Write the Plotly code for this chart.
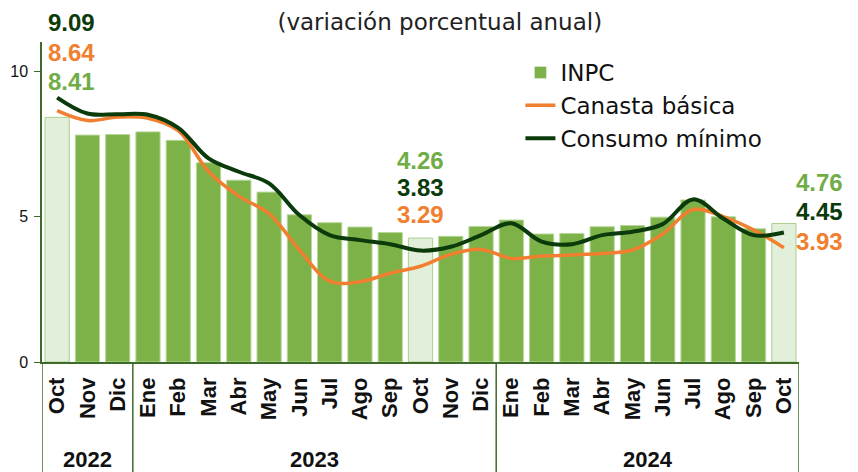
import plotly.graph_objects as go

months = ["Oct", "Nov", "Dic",
          "Ene", "Feb", "Mar", "Abr", "May", "Jun", "Jul", "Ago", "Sep", "Oct", "Nov", "Dic",
          "Ene", "Feb", "Mar", "Abr", "May", "Jun", "Jul", "Ago", "Sep", "Oct"]
years = ["2022", "2023", "2024"]
year_centers = [1, 8.5, 19.5]
year_bounds = [-0.5, 2.5, 14.5, 24.5]

inpc = [8.41, 7.80, 7.82, 7.91, 7.62, 6.85, 6.25, 5.84, 5.06, 4.79, 4.64, 4.45, 4.26,
        4.32, 4.66, 4.88, 4.40, 4.42, 4.65, 4.69, 4.98, 5.57, 4.99, 4.58, 4.76]
canasta = [8.64, 8.30, 8.42, 8.38, 7.95, 6.55, 5.70, 5.10, 3.85, 2.78, 2.76, 3.05, 3.29,
           3.70, 3.87, 3.56, 3.64, 3.68, 3.73, 3.85, 4.40, 5.24, 5.00, 4.54, 3.93]
consumo = [9.09, 8.54, 8.52, 8.50, 8.05, 7.00, 6.54, 6.14, 5.05, 4.36, 4.19, 4.05, 3.83,
           3.96, 4.36, 4.77, 4.14, 4.05, 4.36, 4.48, 4.74, 5.59, 4.93, 4.36, 4.45]
highlight = [0, 12, 24]

C_BAR = "#7CB247"
C_BAR_LIGHT = "#E2EFDA"
C_BAR_EDGE = "#A9D18E"
C_ORANGE = "#F07F2F"
C_DARK = "#0B3A0B"
C_LABEL_GREEN = "#70AD47"
C_AXIS = "#3E6B2A"

YMAX = 11
N = len(months)
x = list(range(N))
bar_colors = [C_BAR_LIGHT if i in highlight else C_BAR for i in x]
bar_lines = [C_BAR_EDGE if i in highlight else "#B7D89A" for i in x]

fig = go.Figure()
fig.add_trace(go.Bar(x=x, y=inpc, name="INPC", width=0.8,
                     marker=dict(color=bar_colors, line=dict(color=bar_lines, width=1)),
                     showlegend=False))
fig.add_trace(go.Bar(x=[None], y=[None], name="INPC", marker=dict(color=C_BAR)))
fig.add_trace(go.Scatter(x=x, y=canasta, name="Canasta básica", mode="lines",
                         line=dict(color=C_ORANGE, width=3.5, shape="spline", smoothing=1)))
fig.add_trace(go.Scatter(x=x, y=consumo, name="Consumo mínimo", mode="lines",
                         line=dict(color=C_DARK, width=4, shape="spline", smoothing=1)))


def px(ix):
    return (ix + 0.5) / N


def py(v):
    return v / YMAX


lab_font = "Liberation Sans"
labels = [
    (0.48, 11.7, f"{consumo[0]:.2f}", C_DARK),
    (0.48, 10.67, f"{canasta[0]:.2f}", C_ORANGE),
    (0.48, 9.66, f"{inpc[0]:.2f}", C_LABEL_GREEN),
    (12.0, 6.94, f"{inpc[12]:.2f}", C_LABEL_GREEN),
    (12.0, 6.03, f"{consumo[12]:.2f}", C_DARK),
    (12.0, 5.09, f"{canasta[12]:.2f}", C_ORANGE),
    (25.17, 6.2, f"{inpc[24]:.2f}", C_LABEL_GREEN),
    (25.17, 5.2, f"{consumo[24]:.2f}", C_DARK),
    (25.17, 4.17, f"{canasta[24]:.2f}", C_ORANGE),
]
for lx, ly, t, c in labels:
    fig.add_annotation(x=px(lx), y=py(ly), xref="paper", yref="paper", text=f"<b>{t}</b>",
                       showarrow=False, font=dict(family=lab_font, size=24, color=c),
                       xanchor="center", yanchor="middle", height=24)

for yr, xc in zip(years, year_centers):
    fig.add_annotation(x=px(xc), y=-0.306, xref="paper", yref="paper", text=f"<b>{yr}</b>",
                       showarrow=False, font=dict(family=lab_font, size=22, color="#111111"),
                       xanchor="center", yanchor="middle")
for xb in year_bounds:
    fig.add_shape(type="line", x0=xb, x1=xb, xref="x", yref="paper", y0=0, y1=-0.36,
                  line=dict(color=C_AXIS, width=1.5))

# page body has an 8px default margin, so the figure is sized to the visible area
fig.update_layout(
    width=850, height=464,
    margin=dict(l=34, r=59, t=34, b=110),
    paper_bgcolor="white", plot_bgcolor="white",
    title=dict(text="(variación porcentual anual)", x=0.508, xanchor="center",
               y=0.97, yanchor="middle",
               font=dict(family="DejaVu Sans", size=23, color="#222222")),
    bargap=0.2,
    legend=dict(x=0.632, y=0.972, xanchor="left", yanchor="top",
                font=dict(family="DejaVu Sans", size=23, color="#111111"),
                bgcolor="rgba(0,0,0,0)", tracegroupgap=0, itemwidth=30),
    xaxis=dict(range=[-0.5, 24.5], tickmode="array", tickvals=x,
               ticktext=[f"<b>{m}</b>" for m in months],
               tickangle=-90, tickfont=dict(family=lab_font, size=22, color="#111111"),
               showline=True, linecolor=C_AXIS, linewidth=1.5, ticks="", showgrid=False,
               zeroline=False, ticklabelstandoff=5, automargin=False),
    yaxis=dict(range=[0, YMAX], tickvals=[0, 5, 10], ticks="outside", ticklen=6,
               tickcolor=C_AXIS, tickfont=dict(family=lab_font, size=16, color="#111111"),
               showline=True, linecolor=C_AXIS, linewidth=1.5, showgrid=False,
               zeroline=False, ticklabelstandoff=3, automargin=False),
)

fig.write_html("out.html")
